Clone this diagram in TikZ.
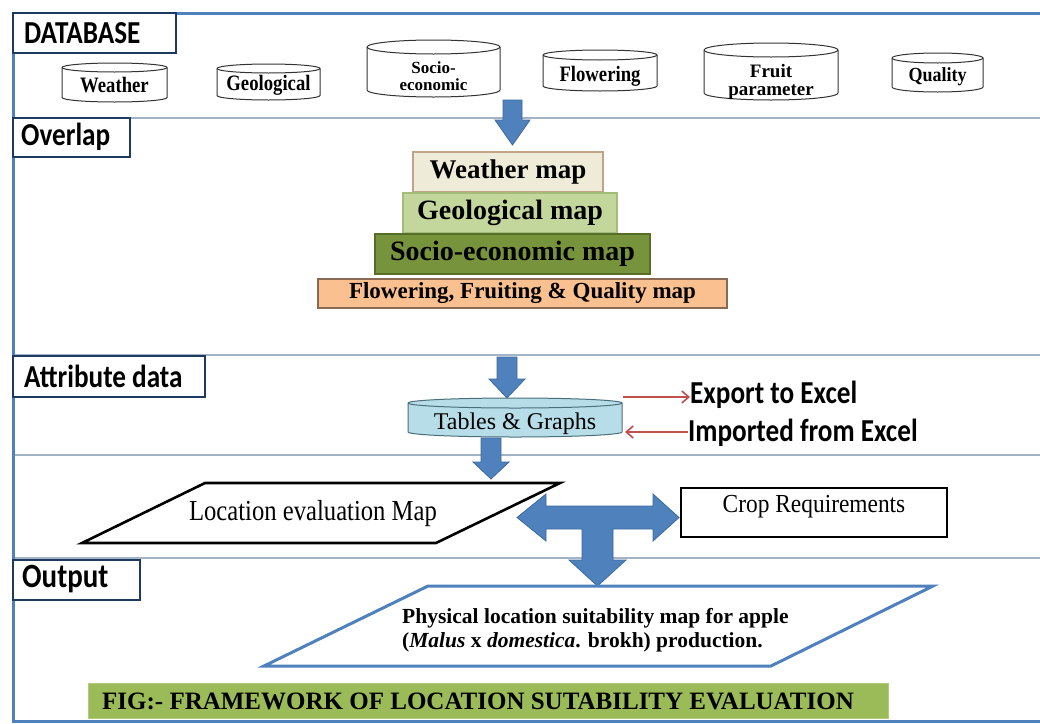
\documentclass[tikz,border=0pt]{standalone}
\usepackage{fontspec}
\setmainfont{Liberation Serif}
\newfontfamily\lblfont{Carlito}[FakeStretch=0.85]
\newfontfamily\sercA{Liberation Serif}[FakeStretch=0.85]
\newfontfamily\sercB{Liberation Serif}[FakeStretch=0.8]
\newfontfamily\sercC{Liberation Serif}[FakeStretch=0.9]
\usetikzlibrary{arrows.meta}
\definecolor{frameblue}{HTML}{4F81BD}
\definecolor{navy}{HTML}{1F3A60}
\definecolor{sepgray}{HTML}{A3B3C6}
\definecolor{arrowblue}{HTML}{4F81BD}
\definecolor{arrowedge}{HTML}{3C6A9E}
\definecolor{wmapfill}{HTML}{EEEBD8}
\definecolor{wmapedge}{HTML}{C2A48A}
\definecolor{gmapfill}{HTML}{C3D69B}
\definecolor{gmapedge}{HTML}{A3BC7A}
\definecolor{smapfill}{HTML}{77933C}
\definecolor{smapedge}{HTML}{566E2A}
\definecolor{fmapfill}{HTML}{FAC090}
\definecolor{fmapedge}{HTML}{8A6A55}
\definecolor{tgfill}{HTML}{B7DEE8}
\definecolor{tgedge}{HTML}{4B6F7A}
\definecolor{capgreen}{HTML}{9BBB59}
\definecolor{capedge}{HTML}{B3CB7E}
\definecolor{redarr}{HTML}{C0504D}
\newcommand\fsz[1]{\fontsize{#1}{#1}\selectfont}
% cx, top, bottom, width, ry, fill, edge
\newcommand\dbcyl[7]{%
  \draw[draw=#7, line width=1pt, fill=#6]
    ({#1-#4/2},{-(#2+#5)}) -- ({#1-#4/2},{-(#3-#5)})
    arc[start angle=180, end angle=360, x radius={#4/2}, y radius=#5]
    -- ({#1+#4/2},{-(#2+#5)})
    arc[start angle=0, end angle=180, x radius={#4/2}, y radius=#5] -- cycle;
  \draw[draw=#7, line width=1pt] ({#1-#4/2},{-(#2+#5)})
    arc[start angle=180, end angle=360, x radius={#4/2}, y radius=#5];
}
\begin{document}
\begin{tikzpicture}[x=1pt,y=1pt,
  sepline/.style={draw=sepgray, line width=1.4pt},
  lblbox/.style={draw=navy, line width=2.6pt, fill=white},
  lbltext/.style={anchor=west, inner sep=0pt, font=\lblfont\bfseries\fsz{32}},
  cyltext/.style={align=center, inner sep=0pt, font=\sercA\bfseries\fsz{22}},
  maptext/.style={inner sep=0pt, font=\bfseries\fsz{27}},
  mapbox/.style={line width=1.5pt, inner sep=0pt},
  blockarrow/.style={fill=arrowblue, draw=arrowedge, line width=0.8pt, line join=miter},
  redarrow/.style={draw=redarr, line width=1.6pt, -{Straight Barb[length=7pt,width=12pt]}},
  xltext/.style={anchor=west, inner sep=0pt, font=\lblfont\bfseries\fsz{32}}
]
\useasboundingbox (0,0) rectangle (1040,-723);
\fill[white] (0,0) rectangle (1040,-723);

% section separators
\draw[sepline] (13,-118) -- (1040,-118);
\draw[sepline] (13,-355) -- (1040,-355);
\draw[sepline] (13,-455) -- (1040,-455);
\draw[sepline] (13,-558) -- (1040,-558);
% outer frame
\draw[frameblue, line width=3pt] (1040,-13) -- (13,-13) -- (13,-721) -- (1040,-721);

% section label boxes
\draw[lblbox] (13,-13) rectangle (176,-53);
\node[lbltext] (dblbl) at (24,-33) {DATABASE};
\draw[lblbox] (13,-118) rectangle (130,-157);
\node[lbltext] (ovlbl) at (21,-137) {Overlap};
\draw[lblbox] (13,-356) rectangle (205,-397);
\node[lbltext] (atlbl) at (24,-376) {Attribute data};
\draw[lblbox] (13,-560) rectangle (140,-600);
\node[lbltext, font=\lblfont\bfseries\fsz{34}] (oplbl) at (22,-579) {Output};

% database cylinders
\dbcyl{114.5}{63}{102}{105}{4.5}{white}{black!80}
\node[cyltext] (cw) at (114.5,-85) {Weather};
\dbcyl{268.5}{64}{100}{103}{4.5}{white}{black!80}
\node[cyltext] (cg) at (268.5,-85) {Geological};
\dbcyl{433.5}{40}{97}{133}{7}{white}{black!80}
\node[cyltext, font=\bfseries\fsz{17}] (cs) at (433.5,-76) {Socio-\\economic};
\dbcyl{600}{50}{91}{114}{5}{white}{black!80}
\node[cyltext] (cf) at (600,-76) {Flowering};
\dbcyl{771}{43}{100}{134}{7}{white}{black!80}
\node[cyltext, font=\bfseries\fsz{19}] (cp) at (771,-82) {Fruit\\[-1pt]parameter};
\dbcyl{937.5}{53}{92}{91}{5}{white}{black!80}
\node[cyltext, font=\sercC\bfseries\fsz{20}] (cq) at (937.5,-77) {Quality};

% arrow database -> overlap
\draw[blockarrow] (503,-100) -- (522,-100) -- (522,-120) -- (530,-120) -- (512.5,-145)
  -- (495,-120) -- (503,-120) -- cycle;

% overlap pyramid
\node[mapbox, draw=wmapedge, fill=wmapfill, minimum width=190pt, minimum height=40pt] (wmap) at (508,-172) {};
\node[maptext] (wmapt) at (wmap.center) {Weather map};
\node[mapbox, draw=gmapedge, fill=gmapfill, minimum width=214pt, minimum height=40pt] (gmap) at (510,-213) {};
\node[maptext, font=\bfseries\fsz{28}] (gmapt) at (gmap.center) {Geological map};
\node[mapbox, draw=smapedge, fill=smapfill, minimum width=275pt, minimum height=40pt] (smap) at (512.5,-254) {};
\node[maptext, font=\bfseries\fsz{28}] (smapt) at (smap.center) {Socio-economic map};
\node[mapbox, draw=fmapedge, fill=fmapfill, minimum width=409pt, minimum height=29pt] (fmap) at (522.5,-293.5) {};
\node[maptext, font=\bfseries\fsz{23}] (fmapt) at (fmap.center) {Flowering, Fruiting \& Quality map};

% attribute data
\draw[blockarrow] (497,-357) -- (517,-357) -- (517,-379) -- (525,-379) -- (507,-398)
  -- (489,-379) -- (497,-379) -- cycle;
\dbcyl{515}{398}{437}{214}{5}{tgfill}{tgedge}
\node[inner sep=0pt, font=\fsz{24}] (tg) at (515,-424) {Tables \& Graphs};
\coordinate (tgE1) at (623,-397);
\coordinate (tgE2) at (625,-432);
\node[xltext] (exp) at (690,-395) {Export to Excel};
\node[xltext] (imp) at (688,-433) {Imported from Excel};
\draw[redarrow] (tgE1) -- (tgE1 -| exp.west);
\draw[redarrow] (tgE2 -| imp.west) -- (tgE2);

% arrow tables -> location
\draw[blockarrow] (481,-438) -- (501,-438) -- (501,-462) -- (509,-462) -- (491,-479)
  -- (473,-462) -- (481,-462) -- cycle;

% location evaluation map
\draw[black, line width=2.6pt, line join=miter] (205,-483) -- (560,-483) -- (436,-543) -- (82,-543) -- cycle;
\node[inner sep=0pt, font=\sercA\fsz{29}] (loc) at (313,-514) {Location evaluation Map};

% crop requirements
\node[draw=black, line width=2.6pt, minimum width=266pt, minimum height=49pt, inner sep=0pt] (crop) at (814,-512.5) {};
\node[inner sep=0pt, font=\sercC\fsz{26}] (cropt) at (814,-507) {Crop Requirements};

% T block arrow
\draw[blockarrow] (517,-517.5) -- (546,-494) -- (546,-506) -- (653,-506) -- (653,-494)
  -- (679,-517.5) -- (653,-541) -- (653,-529) -- (613,-529) -- (613,-560) -- (626,-560)
  -- (597.5,-586) -- (569,-560) -- (582,-560) -- (582,-529) -- (546,-529) -- (546,-541) -- cycle;

% output
\draw[frameblue, line width=3pt, line join=miter] (428,-586) -- (933,-586) -- (771,-666) -- (264,-666) -- cycle;
\node[align=left, anchor=west, inner sep=0pt, font=\bfseries\fsz{21.5}] (out) at (402,-630)
  {Physical location suitability map for apple\\[2pt](\textit{Malus} x \textit{domestica}. brokh) production.};

% caption
\node[fill=capgreen, draw=capedge, line width=1pt, minimum width=800pt, minimum height=35pt, inner sep=0pt] (cap) at (488,-700.5) {};
\node[inner sep=0pt, font=\bfseries\fsz{25}] (capt) at (478,-701) {FIG:- FRAMEWORK OF LOCATION SUTABILITY EVALUATION};
\end{tikzpicture}
\end{document}
